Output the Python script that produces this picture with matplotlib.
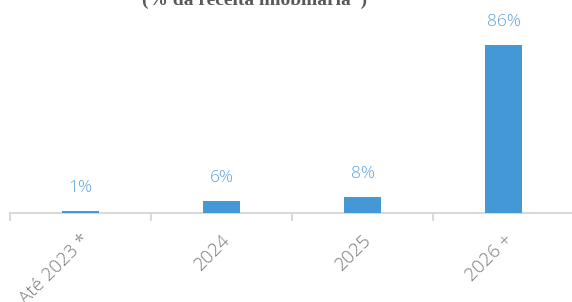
import matplotlib.pyplot as plt
import numpy as np

categorias = ["Até 2023 *", "2024", "2025", "2026 +"]
valores = [1, 6, 8, 86]
rotulos = ["1%", "6%", "8%", "86%"]

fig = plt.figure(figsize=(5.72, 3.02), dpi=100)
ax = fig.add_axes([10 / 572, 89 / 302, 564 / 572, 213 / 302])

x = np.arange(len(categorias))
ax.bar(x, valores, width=0.26, color="#4598d6", zorder=3)

for xi, v, r in zip(x, valores, rotulos):
    ax.annotate(r, (xi, v), xytext=(0, 11), textcoords="offset points",
                ha="center", va="bottom", color="#5fa3dc",
                fontsize=12.5, family="Open Sans", fontweight="light")

ax.set_xlim(-0.5, len(categorias) - 0.5)
ax.set_ylim(0, 109)

for s in ["top", "right", "left"]:
    ax.spines[s].set_visible(False)
ax.spines["bottom"].set_color("#d9d9d9")
ax.spines["bottom"].set_linewidth(1.5)
ax.set_yticks([])

# ticks nas fronteiras entre categorias
ax.set_xticks(np.arange(-0.5, len(categorias)), minor=False)
ax.set_xticklabels([])
ax.tick_params(axis="x", length=6, width=1.5, color="#d9d9d9", direction="out")
ax.set_xticks(x, minor=True)
ax.set_xticklabels(categorias, minor=True, rotation=45, ha="right",
                   rotation_mode="anchor", color="#7a7a7a", fontsize=13.5,
                   family="Open Sans", fontweight="light")
ax.tick_params(axis="x", which="minor", length=0, pad=13)

# título cortado no topo
fig.text(0.445, 1 - 5 / 302, "(% da receita imobiliária*)", ha="center",
         va="baseline", fontsize=14, family="Liberation Serif",
         fontweight="bold", color="#595959")

fig.savefig("out.png", dpi=100)
